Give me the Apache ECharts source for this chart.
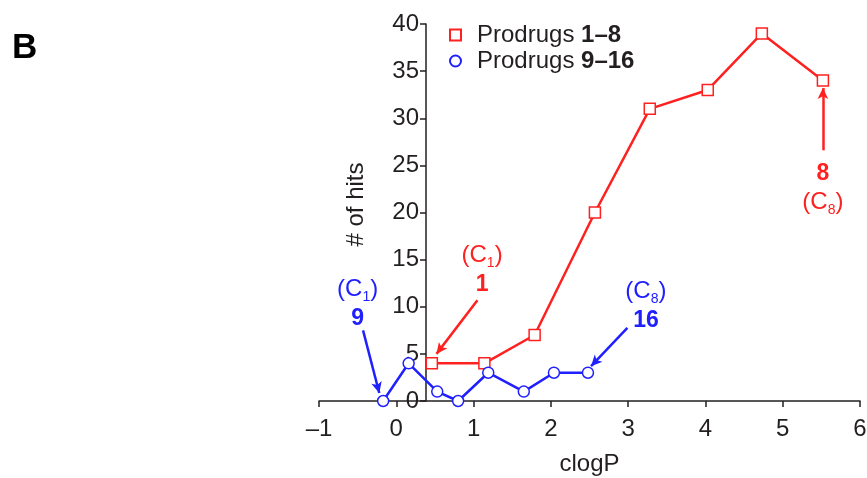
<!DOCTYPE html>
<html><head><meta charset="utf-8">
<script src="https://cdn.jsdelivr.net/npm/echarts@6/dist/echarts.min.js"></script>
<style>html,body{margin:0;padding:0;background:#fff}#c{width:867px;height:478px}</style>
</head><body><div id="c"></div>
<script>
// ---- data ----
const redName = 'Prodrugs 1–8';
const blueName = 'Prodrugs 9–16';
const redX = [0.46, 1.14, 1.79, 2.57, 3.28, 4.03, 4.73, 5.52];
const redY = [4, 4, 7, 20, 31, 33, 39, 34];
const blueX = [-0.17, 0.16, 0.53, 0.80, 1.19, 1.65, 2.04, 2.48];
const blueY = [0, 4, 1, 0, 3, 1, 3, 3];
const xTicks = [-1, 0, 1, 2, 3, 4, 5, 6];
const yTicks = [0, 5, 10, 15, 20, 25, 30, 35, 40];

// ---- styles ----
const RED = '#ff2020', BLUE = '#2020ff', INK = '#231f20';
const FONT = '"Liberation Sans", Arial, Helvetica, sans-serif';

const pairs = (xs, ys) => xs.map((x, i) => [x, ys[i]]);
const fmtTick = v => (v < 0 ? '\u2013' + (-v) : String(v));

function richFor(color) {
  return {
    n: {fontSize: 24, color: color, fontFamily: FONT, lineHeight: 29},
    s: {fontSize: 14, color: color, fontFamily: FONT, lineHeight: 10, verticalAlign: 'bottom'},
    b: {fontSize: 23, color: color, fontFamily: FONT, fontWeight: 'bold', lineHeight: 29}
  };
}
function note(coord, text, color) {
  return {coord: coord, symbol: 'circle', symbolSize: 0,
    label: {show: true, position: 'inside', formatter: text, rich: richFor(color), align: 'center'}};
}
function arrow(from, to) {
  return [{coord: from}, {coord: to}];
}

const chart = echarts.init(document.getElementById('c'), null, {renderer: 'canvas'});
chart.setOption({
  animation: false,
  textStyle: {fontFamily: FONT},
  grid: {left: 319, right: 7, top: 24, bottom: 77, containLabel: false, outerBoundsMode: 'none'},
  graphic: [{type: 'text', left: 12, top: 31,
    style: {text: 'B', font: 'bold 35px ' + FONT, fill: '#000'}}],
  legend: {
    orient: 'vertical', left: 449, top: 22, padding: 0,
    itemWidth: 11, itemHeight: 11, itemGap: 0,
    selectedMode: false,
    data: [{name: redName, icon: 'rect'}, {name: blueName, icon: 'circle'}],
    formatter: n => n.replace(/(\d+–\d+)/, '{b|$1}'),
    textStyle: {fontSize: 24, color: INK, fontFamily: FONT, padding: [0, 0, 0, 11], lineHeight: 26,
      rich: {b: {fontSize: 24, fontWeight: 'bold', color: INK, fontFamily: FONT, lineHeight: 26}}}
  },
  xAxis: {
    type: 'value', min: xTicks[0], max: xTicks[xTicks.length - 1], interval: 1,
    name: 'clogP', nameLocation: 'middle', nameGap: 51,
    nameTextStyle: {fontSize: 24, color: INK, fontFamily: FONT},
    axisLine: {onZero: false, lineStyle: {color: INK, width: 1.5}},
    axisTick: {show: true, length: 6, inside: false, lineStyle: {color: INK, width: 1.5}},
    axisLabel: {fontSize: 24, color: INK, margin: 16, formatter: fmtTick, fontFamily: FONT},
    splitLine: {show: false}
  },
  yAxis: {
    type: 'value', min: yTicks[0], max: yTicks[yTicks.length - 1], interval: 5,
    offset: -107,
    name: '# of hits', nameLocation: 'middle', nameGap: 58,
    nameTextStyle: {fontSize: 24, color: INK, fontFamily: FONT, padding: [0, 0, 0, 16]},
    axisLine: {show: true, onZero: false, lineStyle: {color: INK, width: 1.5}},
    axisTick: {show: true, length: 6, inside: false, lineStyle: {color: INK, width: 1.5}},
    axisLabel: {fontSize: 24, color: INK, margin: 7, fontFamily: FONT},
    splitLine: {show: false}
  },
  series: [
    {
      name: redName, type: 'line', data: pairs(redX, redY), z: 3,
      symbol: 'rect', symbolSize: 11, showAllSymbol: true,
      lineStyle: {color: RED, width: 2.5},
      itemStyle: {color: '#fff', borderColor: RED, borderWidth: 1.5},
      emphasis: {disabled: true},
      markPoint: {silent: true, data: [
        note([1.11, 13.9], '{n|(C}{s|1}{n|)}\n{b|1}', RED),
        note([5.52, 22.6], '{b|8}\n{n|(C}{s|8}{n|)}', RED)
      ]},
      markLine: {silent: true, symbol: ['none', 'arrow'], symbolSize: [8, 11],
        label: {show: false}, itemStyle: {color: RED},
        lineStyle: {color: RED, width: 2.5, type: 'solid'},
        emphasis: {disabled: true},
        data: [arrow([1.05, 10.7], [0.52, 5.0]), arrow([5.52, 26.6], [5.52, 33.2])]}
    },
    {
      name: blueName, type: 'line', data: pairs(blueX, blueY), z: 4,
      symbol: 'circle', symbolSize: 11, showAllSymbol: true,
      lineStyle: {color: BLUE, width: 2.5},
      itemStyle: {color: '#fff', borderColor: BLUE, borderWidth: 1.5},
      emphasis: {disabled: true},
      markPoint: {silent: true, data: [
        note([-0.50, 10.3], '{n|(C}{s|1}{n|)}\n{b|9}', BLUE),
        note([3.23, 10.1], '{n|(C}{s|8}{n|)}\n{b|16}', BLUE)
      ]},
      markLine: {silent: true, symbol: ['none', 'arrow'], symbolSize: [8, 11],
        label: {show: false}, itemStyle: {color: BLUE},
        lineStyle: {color: BLUE, width: 2.5, type: 'solid'},
        emphasis: {disabled: true},
        data: [arrow([-0.43, 7.5], [-0.22, 0.85]), arrow([2.99, 7.75], [2.52, 3.7])]}
    }
  ]
});
</script></body></html>
